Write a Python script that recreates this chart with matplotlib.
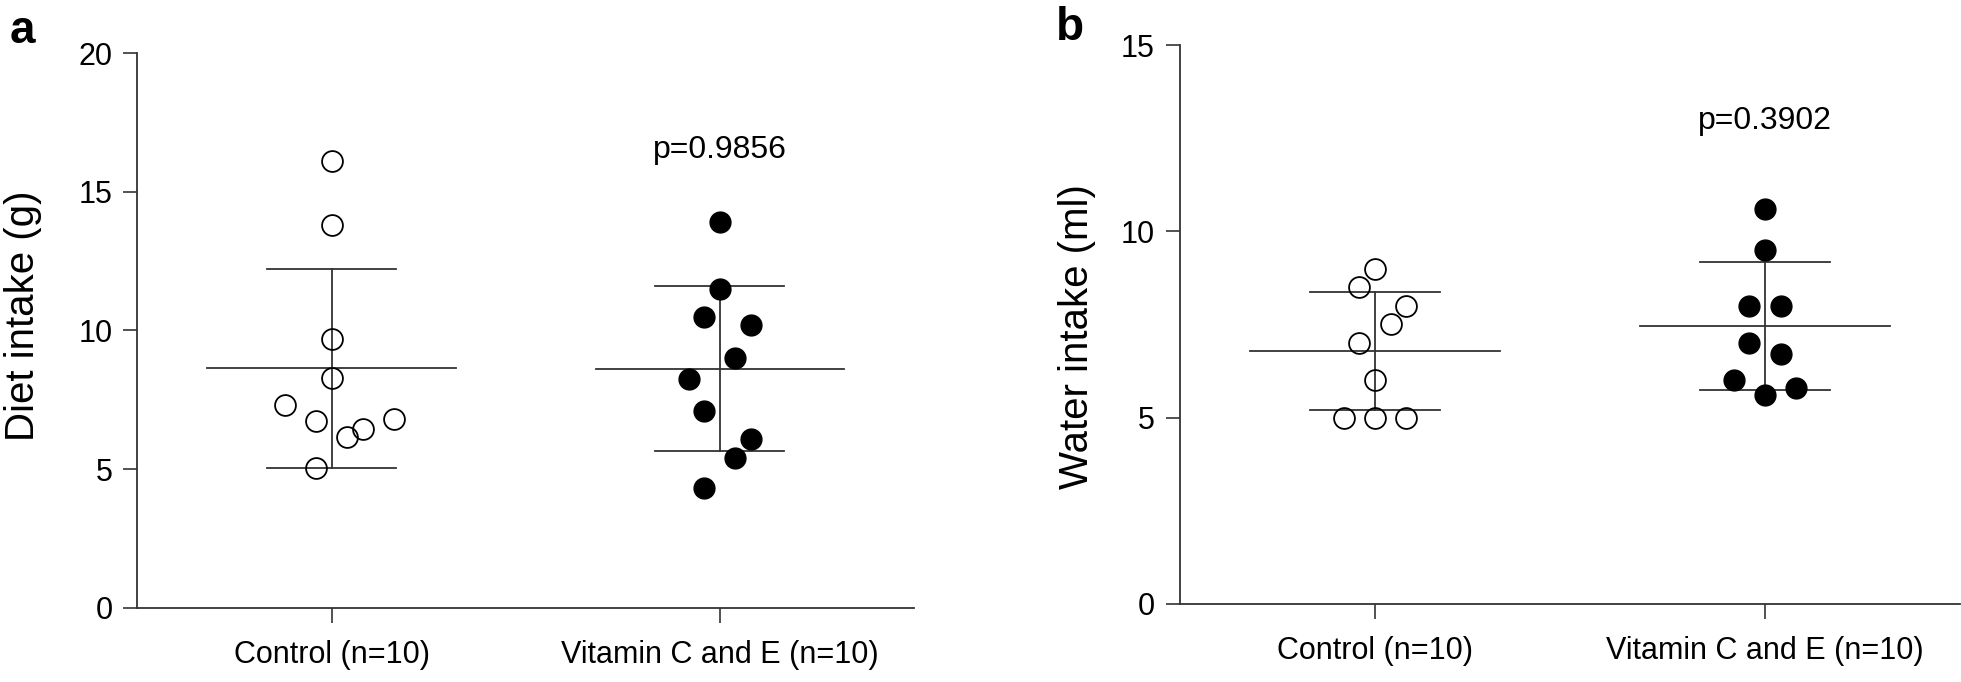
import numpy as np
import matplotlib
matplotlib.use("Agg")
from matplotlib import pyplot as plt

plt.rcParams['font.family'] = ['Liberation Sans', 'DejaVu Sans']

# categories
groups = ["Control (n=10)", "Vitamin C and E (n=10)"]

# panel a: diet intake (g)
diet_control = [16.1, 13.8, 9.7, 8.3, 7.3, 6.75, 6.15, 6.45, 6.8, 5.05]
diet_control_jit = [0, 0, 0, 0, -3, -1, 1, 2, 4, -1]
diet_vitamin = [13.9, 11.5, 10.5, 10.2, 9.0, 8.25, 7.1, 6.1, 5.4, 4.3]
diet_vitamin_jit = [0, 0, -1, 2, 1, -2, -1, 2, 1, -1]
diet_p = "p=0.9856"

# panel b: water intake (ml)
water_control = [9.0, 8.5, 8.0, 7.5, 7.0, 6.0, 5.0, 5.0, 5.0]
water_control_jit = [0, -1, 2, 1, -1, 0, -2, 0, 2]
water_vitamin = [10.6, 9.5, 8.0, 8.0, 7.0, 6.7, 6.0, 5.6, 5.8]
water_vitamin_jit = [0, 0, -1, 1, -1, 1, -2, 0, 2]
water_p = "p=0.3902"

line_col = '#333333'


def draw_group(ax, xpos, vals, jit, filled):
    vals = np.array(vals)
    m = vals.mean()
    sd = vals.std(ddof=1)
    # mean line, sd bar and caps
    ax.plot([xpos - 0.32, xpos + 0.32], [m, m], color=line_col, lw=1.3, zorder=2)
    ax.plot([xpos, xpos], [m - sd, m + sd], color=line_col, lw=1.3, zorder=2)
    for y in (m - sd, m + sd):
        ax.plot([xpos - 0.166, xpos + 0.166], [y, y], color=line_col, lw=1.3, zorder=2)
    xs = xpos + np.array(jit) * 0.04
    if filled:
        ax.plot(xs, vals, 'o', ms=15, mfc='black', mec='black', mew=1.0, ls='none', zorder=3)
    else:
        ax.plot(xs, vals, 'o', ms=15, mfc='none', mec='black', mew=1.3, ls='none', zorder=3)


def style_axes(ax, ymax, yticks, ylabel, labx, laby):
    ax.set_xlim(-0.5, 1.5)
    ax.set_ylim(0, ymax)
    ax.set_yticks(yticks)
    ax.set_xticks([0, 1])
    ax.set_xticklabels(groups)
    ax.spines['top'].set_visible(False)
    ax.spines['right'].set_visible(False)
    for s in ('left', 'bottom'):
        ax.spines[s].set_color(line_col)
        ax.spines[s].set_linewidth(1.3)
    ax.tick_params(axis='y', length=10, width=1.2, color=line_col, labelsize=22, pad=8)
    ax.tick_params(axis='x', length=11, width=1.2, color=line_col, labelsize=22, pad=12)
    ax.set_ylabel(ylabel, fontsize=29)
    ax.yaxis.set_label_coords(labx, laby)


fig = plt.figure(figsize=(19.61, 6.82), dpi=100)

ax1 = fig.add_axes([0.0701, 0.109, 0.396, 0.813])
draw_group(ax1, 0, diet_control, diet_control_jit, False)
draw_group(ax1, 1, diet_vitamin, diet_vitamin_jit, True)
ax1.text(1, 16.5, diet_p, ha='center', va='center', fontsize=23)
style_axes(ax1, 20, [0, 5, 10, 15, 20], "Diet intake (g)", -0.123, 0.527)

ax2 = fig.add_axes([0.6017, 0.1144, 0.3978, 0.8196])
draw_group(ax2, 0, water_control, water_control_jit, False)
draw_group(ax2, 1, water_vitamin, water_vitamin_jit, True)
ax2.text(1, 12.95, water_p, ha='center', va='center', fontsize=23)
style_axes(ax2, 15, [0, 5, 10, 15], "Water intake (ml)", -0.108, 0.479)

fig.text(22 / 1961, 1 - 31 / 682, "a", fontsize=33, fontweight='bold', ha='center', va='center')
fig.text(1070 / 1961, 1 - 28 / 682, "b", fontsize=33, fontweight='bold', ha='center', va='center')

fig.savefig("out.png", dpi=100)
